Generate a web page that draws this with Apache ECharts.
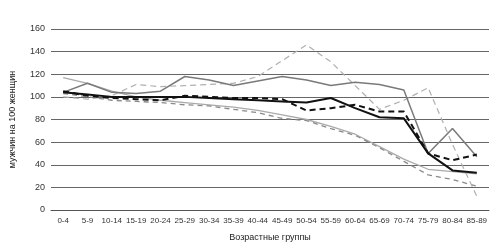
<!DOCTYPE html>
<html><head><meta charset="utf-8">
<script src="https://cdn.jsdelivr.net/npm/echarts@6/dist/echarts.min.js"></script>
<style>html,body{margin:0;padding:0;background:#fff}#c{width:500px;height:249px}</style>
</head><body><div id="c"></div>
<script>
const categories = ['0-4','5-9','10-14','15-19','20-24','25-29','30-34','35-39','40-44','45-49','50-54','55-59','60-64','65-69','70-74','75-79','80-84','85-89'];
const grayUpper   = [104,112,104,103,105,118,115,110,114,118,115,110,113,111,106,50,72,47];
const lightDashed = [100,98,101,111,109,110,111,112,118,132,146,131,110,89,97,108,58,12];
const lightSolid  = [117,112,105,100,97,95,93,91,88,84,80,74,67,56,45,36,34,32];
const grayDashed  = [103,100,97,96,95,93,92,89,86,81,79,72,66,55,43,31,27,21];
const blackSolid  = [104,102,100,100,100,100,99,98,97,96,95,99,90,82,81,50,35,33];
const blackDashed = [105,101,99,98,97,101,100,99,99,98,88,90,93,87,87,50,44,49];
const yTicks = {min:0, max:160, interval:20};

const chart = echarts.init(document.getElementById('c'), null, {renderer:'canvas'});
const mk = (data, color, width, type) => ({
  type:'line', data, symbol:'none', smooth:false,
  lineStyle:{color, width, type}, emphasis:{disabled:true}
});
chart.setOption({
  animation:false,
  backgroundColor:'#fff',
  grid:{left:48, right:11, top:29, bottom:39},
  xAxis:{
    type:'category', data:categories, boundaryGap:true,
    axisLine:{show:true, lineStyle:{color:'#555', width:1}},
    axisTick:{show:false},
    axisLabel:{color:'#333', fontSize:8, fontFamily:'Liberation Sans, Arial', margin:7, interval:0},
    name:'Возрастные группы', nameLocation:'middle', nameGap:23,
    nameTextStyle:{color:'#222', fontSize:9, fontFamily:'Liberation Sans, Arial'}
  },
  yAxis:{
    type:'value', min:yTicks.min, max:yTicks.max, interval:yTicks.interval,
    axisLine:{show:false}, axisTick:{show:false},
    axisLabel:{color:'#333', fontSize:9, fontFamily:'Liberation Sans, Arial', margin:6},
    splitLine:{lineStyle:{color:'#666', width:1}},
    name:'мужчин на 100 женщин', nameLocation:'middle', nameGap:34, nameRotate:90,
    nameTextStyle:{color:'#222', fontSize:9, fontFamily:'Liberation Sans, Arial'}
  },
  series:[
    mk(lightSolid, '#aaaaaa', 1.3, 'solid'),
    mk(grayDashed, '#8a8a8a', 1.3, [5,4]),
    mk(lightDashed, '#b0b0b0', 1.2, [6,4]),
    mk(grayUpper, '#7a7a7a', 1.5, 'solid'),
    mk(blackDashed, '#111111', 2, [6,4]),
    mk(blackSolid, '#111111', 2, 'solid')
  ]
});
</script></body></html>
